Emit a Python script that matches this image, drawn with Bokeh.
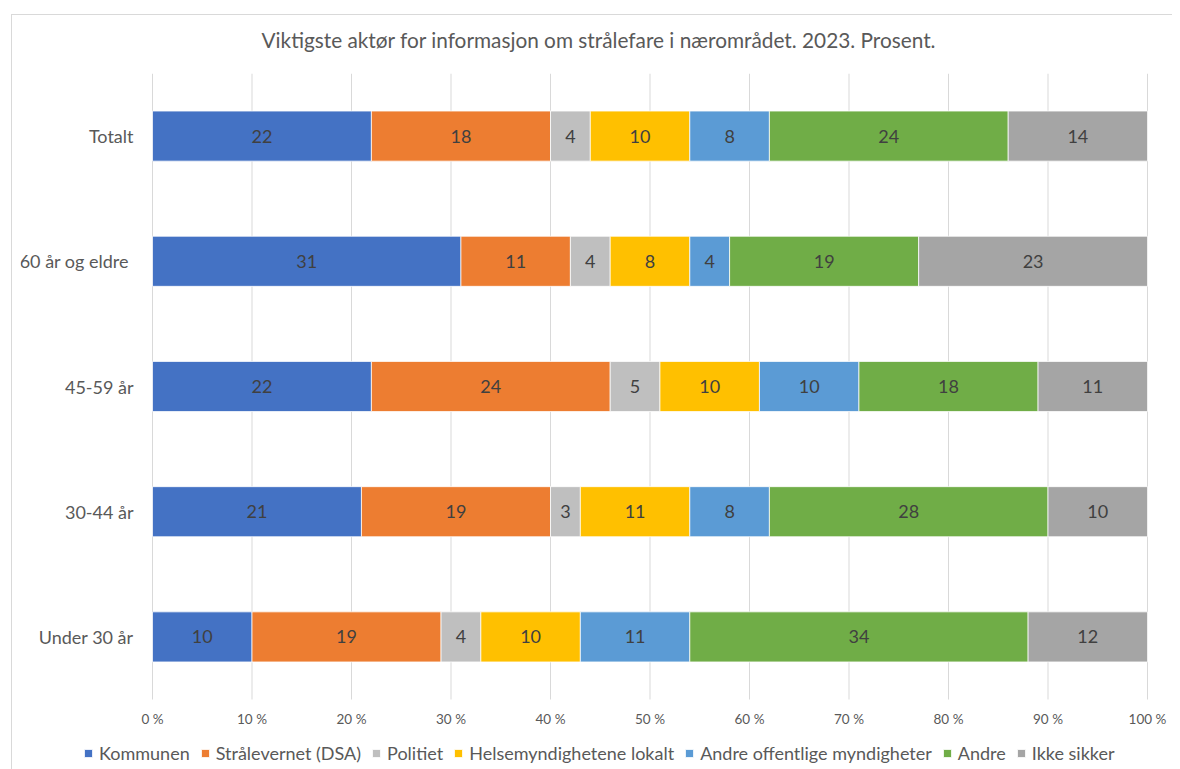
from bokeh.plotting import figure
from bokeh.models import ColumnDataSource, Range1d, Legend, LegendItem
from bokeh.core.properties import value
from bokeh.embed import file_html
from bokeh.resources import INLINE

title_text = "Viktigste aktør for informasjon om strålefare i nærområdet. 2023. Prosent."
categories = ["Totalt", "60 år og eldre ", "45-59 år", "30-44 år", "Under 30 år"]
series_names = ["Kommunen", "Strålevernet (DSA)", "Politiet", "Helsemyndighetene lokalt",
                "Andre offentlige myndigheter", "Andre", "Ikke sikker"]
kommunen = [22, 31, 22, 21, 10]
straalevernet = [18, 11, 24, 19, 19]
politiet = [4, 4, 5, 3, 4]
helse_lokalt = [10, 8, 10, 11, 10]
andre_offentlige = [8, 4, 10, 8, 11]
andre = [24, 19, 18, 28, 34]
ikke_sikker = [14, 23, 11, 10, 12]
tick_values = [0, 10, 20, 30, 40, 50, 60, 70, 80, 90, 100]
tick_labels = ["0 %", "10 %", "20 %", "30 %", "40 %", "50 %", "60 %", "70 %", "80 %", "90 %", "100 %"]

colors = ["#4472C4", "#ED7D31", "#BFBFBF", "#FFC000", "#5B9BD5", "#70AD47", "#A5A5A5"]
all_series = [kommunen, straalevernet, politiet, helse_lokalt, andre_offentlige, andre, ikke_sikker]
keys = ["s%d" % i for i in range(len(all_series))]

n = len(categories)
positions = [n - 1 - i for i in range(n)]  # Totalt on top

data = {"cat": categories, "pos": positions}
for k, s in zip(keys, all_series):
    data[k] = s
source = ColumnDataSource(data)

FONT = "Lato"
TXT = "#595959"

# layout (screen pixels)
FRAME_LEFT, FRAME_RIGHT, FRAME_TOP, FRAME_BOTTOM = 20, 1172, 73, 769
PLOT_LEFT, PLOT_RIGHT, PLOT_BOTTOM = 152, 1147, 699
px_per_x = (PLOT_RIGHT - PLOT_LEFT) / 100.0
px_per_y = (PLOT_BOTTOM - FRAME_TOP) / float(n)
x_start = -(PLOT_LEFT - FRAME_LEFT) / px_per_x
x_end = 100 + (FRAME_RIGHT - PLOT_RIGHT) / px_per_x
y_end = n - 0.5
y_start = y_end - (FRAME_BOTTOM - FRAME_TOP) / px_per_y

p = figure(x_range=Range1d(x_start, x_end), y_range=Range1d(y_start, y_end),
           frame_width=FRAME_RIGHT - FRAME_LEFT, frame_height=FRAME_BOTTOM - FRAME_TOP,
           output_backend="svg", toolbar_location=None,
           x_axis_location=None, y_axis_location=None,
           min_border_left=FRAME_LEFT, min_border_top=FRAME_TOP, min_border_right=0, min_border_bottom=0)
p.border_fill_color = None
p.background_fill_color = None
p.styles = {
    "background-color": "white",
    "background-image": "linear-gradient(#D9D9D9,#D9D9D9), linear-gradient(#D9D9D9,#D9D9D9)",
    "background-size": "1px 100%, 100% 1px",
    "background-position": "11px 14px, 11px 14px",
    "background-repeat": "no-repeat",
}
p.xgrid.grid_line_color = None
p.ygrid.grid_line_color = None
p.outline_line_color = None

p.title.text = title_text
p.title.text_font = FONT
p.title.text_font_size = "20.8px"
p.title.text_font_style = "normal"
p.title.text_color = TXT
p.title.align = "left"
p.title.offset = 261 - FRAME_LEFT
p.title.standoff = 43

# vertical grid lines at the tick values
grid_bottom = -0.5
grid_top = n - 0.5
p.segment(x0=tick_values, y0=[grid_bottom] * len(tick_values), x1=tick_values, y1=[grid_top] * len(tick_values),
          line_color="#D9D9D9", line_width=1)

renderers = p.hbar_stack(keys, y="pos", height=0.4, color=colors, source=source,
                         line_color="white", line_width=0.75)

# segment labels
xs, ys, ts = [], [], []
for ci in range(n):
    cum = 0
    for s in all_series:
        v = s[ci]
        xs.append(cum + v / 2)
        ys.append(positions[ci])
        ts.append(str(v))
        cum += v
p.text(x=xs, y=ys, text=ts, text_align="center", text_baseline="middle",
       text_font=value(FONT), text_font_size="18px", text_color="#404040")

# category labels (left of the bars)
p.text(x=[0] * n, y=positions, text=categories, x_offset=-19, text_align="right", text_baseline="middle",
       text_font=value(FONT), text_font_size="18px", text_color=TXT)

# x tick labels below the grid
p.text(x=tick_values, y=[grid_bottom] * len(tick_values), text=tick_labels, y_offset=19,
       text_align="center", text_baseline="middle",
       text_font=value(FONT), text_font_size="13.5px", text_color=TXT)

legend = Legend(items=[LegendItem(label=nm, renderers=[r]) for nm, r in zip(series_names, renderers)],
                orientation="horizontal", location=(83 - FRAME_LEFT, 5),
                glyph_width=10, glyph_height=10, label_standoff=6, spacing=10,
                padding=0, margin=0, border_line_color=None, background_fill_alpha=0,
                label_text_font=FONT, label_text_font_size="18px", label_text_color=TXT)
p.add_layout(legend, "center")

open("out.html", "w").write(file_html(p, INLINE))
